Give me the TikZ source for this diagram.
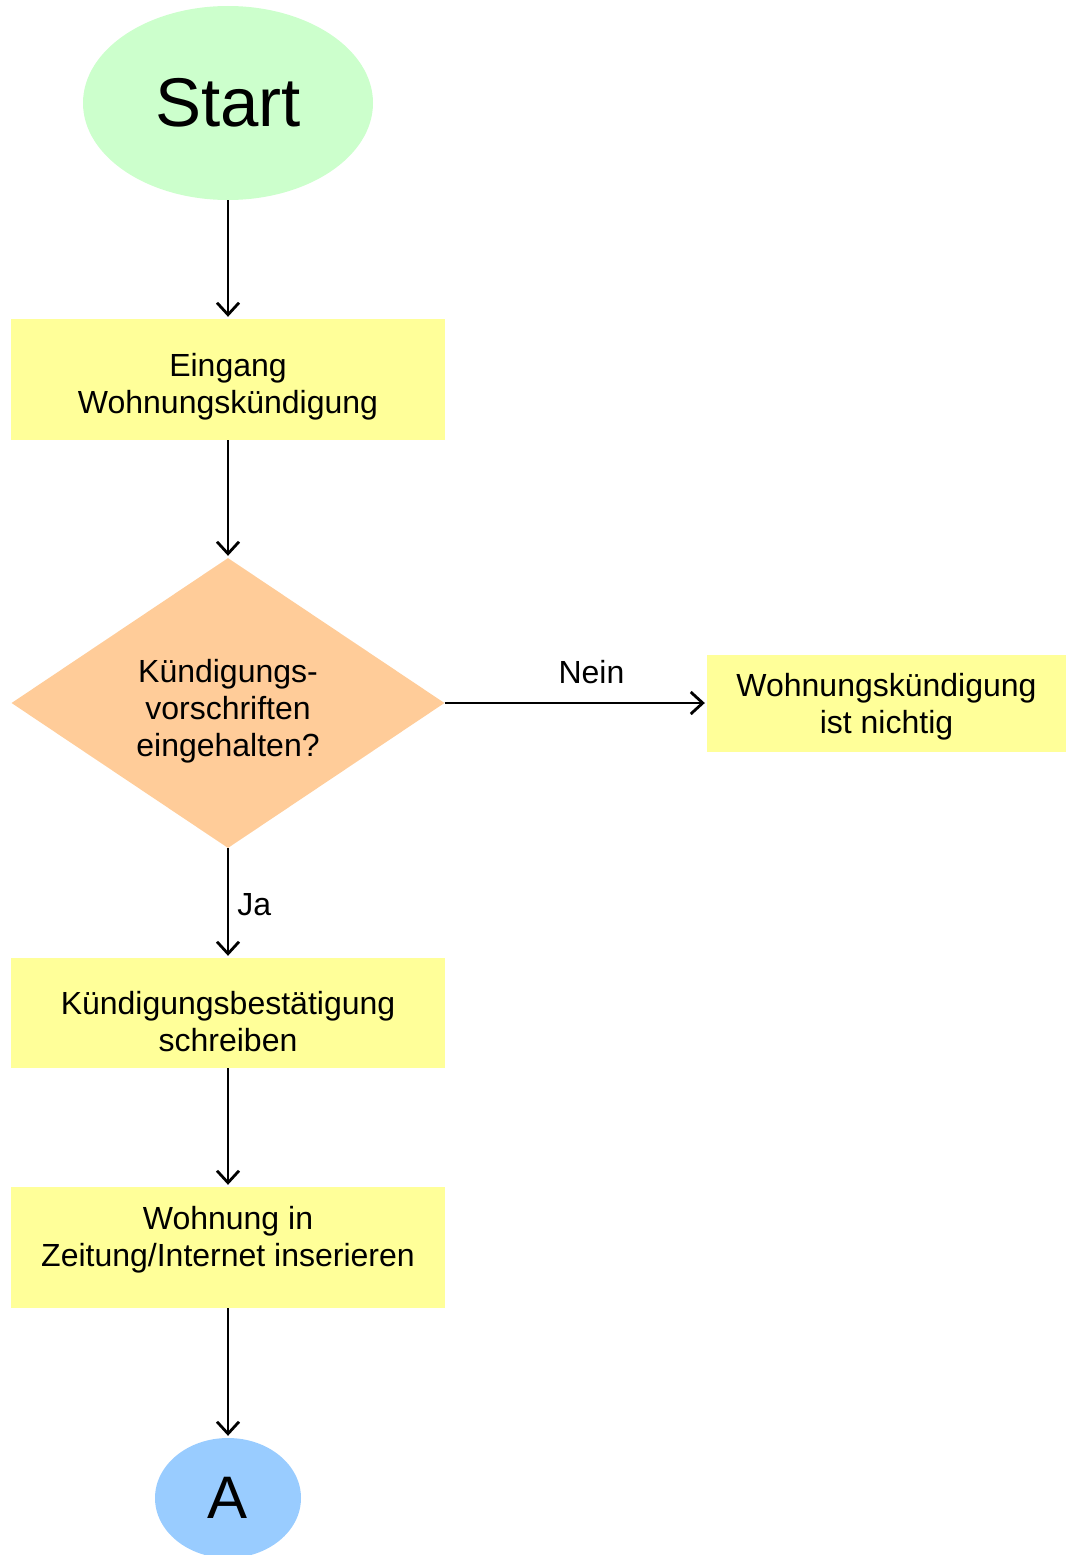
\documentclass[tikz,border=0pt]{standalone}
\usepackage{fontspec}
\setmainfont{Liberation Sans}
\usetikzlibrary{shapes.geometric,arrows.meta}
\definecolor{startgreen}{HTML}{CCFFCC}
\definecolor{boxyellow}{HTML}{FFFF99}
\definecolor{decorange}{HTML}{FFCC99}
\definecolor{conblue}{HTML}{99CCFF}
\tikzset{
  procbox/.style={rectangle, fill=boxyellow, draw=none, inner sep=0pt},
  conn/.style={line width=2.8pt, -{Straight Barb[length=12pt,width=22pt,line width=2.8pt]}, shorten >=2pt},
  lbl/.style={font=\fontsize{32}{37}\selectfont, inner sep=0pt, align=center}
}
\begin{document}
\begin{tikzpicture}[x=1pt,y=-1pt]
\useasboundingbox (0,0) rectangle (1066,1555);
\begin{scope}
\clip (0,0) rectangle (1066,1555);
\node[ellipse, fill=startgreen, minimum width=290pt, minimum height=194pt, inner sep=0pt,
  font=\fontsize{69}{72}\selectfont] (start) at (228,103) {Start};
\node[procbox, minimum width=434pt, minimum height=121pt] (eing) at (228,379.5) {};
\node[lbl] (eingtext) at (228,387) {Eingang\\Wohnungskündigung};
\node[diamond, fill=decorange, minimum width=433pt, minimum height=290pt, inner sep=0pt] (dec) at (228,703) {};
\node[lbl] (dectext) at (228,711) {Kündigungs-\\vorschriften\\eingehalten?};
\node[procbox, minimum width=359pt, minimum height=97pt] (nicht) at (886.5,703) {};
\node[lbl] (nichttext) at (886.5,706.5) {Wohnungskündigung\\ist nichtig};
\node[procbox, minimum width=434pt, minimum height=110pt] (best) at (228,1013) {};
\node[lbl] (besttext) at (228,1022) {Kündigungsbestätigung\\schreiben};
\node[procbox, minimum width=434pt, minimum height=121pt] (ins) at (228,1247.5) {};
\node[lbl] (instext) at (228,1239.5) {Wohnung in\\Zeitung/Internet inserieren};
\node[ellipse, fill=conblue, minimum width=146pt, minimum height=120pt, inner sep=0pt,
  font=\fontsize{60}{64}\selectfont] (A) at (228,1498) {A};
\end{scope}
\draw[conn] (start.south) -- (eing.north);
\draw[conn] (eing.south) -- (dec.north);
\draw[conn] (dec.east) -- node[lbl, pos=0.56, above=18pt] (nein) {Nein} (nicht.west);
\draw[conn] (dec.south) -- node[lbl, right=8pt, yshift=-2pt] (ja) {Ja} (best.north);
\draw[conn] (best.south) -- (ins.north);
\draw[conn] (ins.south) -- (A.north);
\end{tikzpicture}
\end{document}
